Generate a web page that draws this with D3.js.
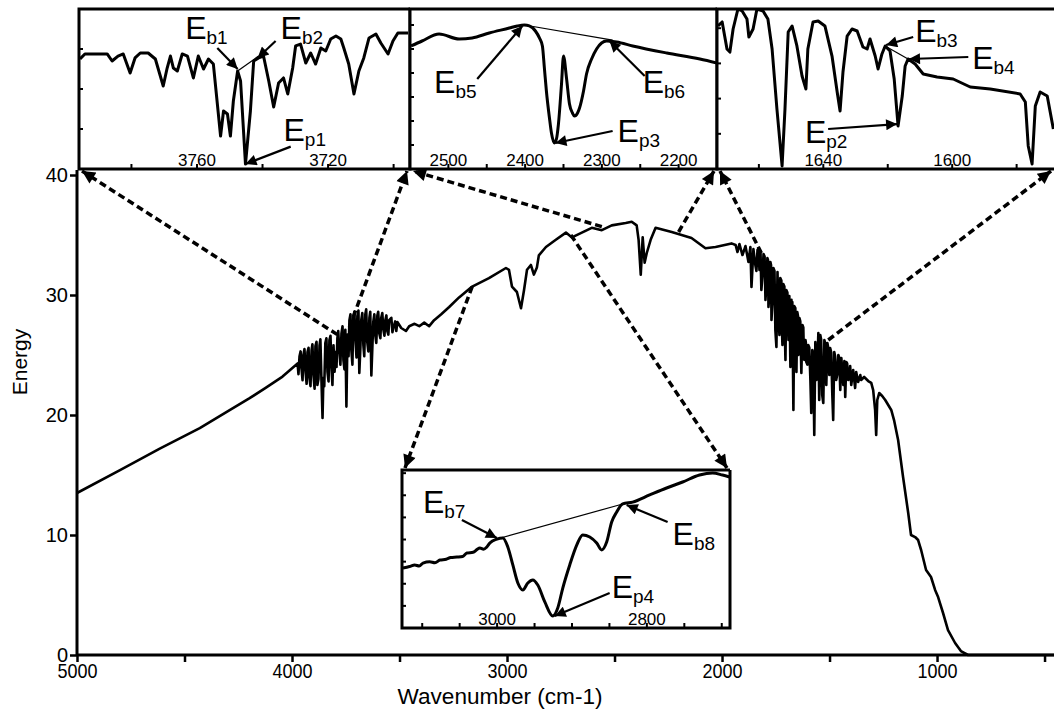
<!DOCTYPE html>
<html>
<head>
<meta charset="utf-8">
<script src="https://cdn.jsdelivr.net/npm/d3@7"></script>
<style>
body { margin: 0; background: #fff; }
svg { display: block; font-family: "Liberation Sans", Arial, sans-serif; }
</style>
</head>
<body>
<svg id="chart" width="1054" height="721"></svg>
<script>
// ---- main spectrum: [wavenumber, energy]
var spectrum = [
  [5000,13.5],[4800,15.4],[4615,17.2],[4429,18.9],[4290,20.4],[4197,21.4],[4128,22.2],[4044,23.2],
  [3974,24.3],[3970,23.4],[3965,24.9],[3960,25.3],[3956,23.9],[3951,22.9],[3947,25.0],[3942,25.5],
  [3937,23.6],[3932,22.6],[3928,25.25],[3923,25.6],[3919,23.1],[3914,22.4],[3909,25.4],[3905,25.9],
  [3900,23.3],[3895,22.2],[3891,25.75],[3886,26.1],[3882,22.5],[3877,23.0],[3872,25.8],[3868,26.3],
  [3863,22.9],[3858,19.75],[3854,23.1],[3850,22.4],[3845,26.0],[3840,26.4],[3835,23.6],[3830,22.8],
  [3826,26.25],[3821,26.6],[3817,24.1],[3812,22.5],[3807,25.8],[3802,23.6],[3798,25.25],[3793,24.0],
  [3789,26.4],[3785,27.0],[3780,25.4],[3775,24.2],[3770,26.8],[3765,27.4],[3761,24.6],[3756,23.8],
  [3752,27.1],[3747,20.7],[3742,26.7],[3737,24.9],[3733,27.9],[3728,28.4],[3724,25.4],[3719,24.2],
  [3715,28.1],[3710,28.6],[3705,26.25],[3700,24.8],[3696,28.25],[3691,28.7],[3687,23.5],[3682,25.6],
  [3678,27.9],[3673,28.5],[3668,25.8],[3664,24.9],[3659,28.4],[3655,28.8],[3650,26.1],[3645,25.3],
  [3640,28.1],[3636,28.6],[3631,23.3],[3622,27.75],[3617,28.4],[3613,26.7],[3608,26.0],[3603,28.3],
  [3599,28.6],[3594,26.8],[3589,26.4],[3585,28.1],[3580,28.5],[3575,27.1],[3570,26.6],[3566,27.9],
  [3561,28.3],[3557,27.0],[3552,26.7],[3548,27.9],[3538,28.1],[3533,26.9],[3529,27.25],[3520,27.8],
  [3515,27.0],[3510,27.75],[3492,27.25],[3470,27.0],[3455,27.4],[3430,27.6],
  [3408,27.4],[3385,27.7],[3362,27.4],[3339,27.9],[3306,28.4],[3269,29.0],
  [3223,29.8],[3162,30.7],[3084,31.4],[3005,32.25],[2991,32.1],[2977,30.7],[2954,30.25],[2935,28.9],
  [2921,30.4],[2907,32.1],[2889,32.5],[2875,31.7],[2861,32.3],[2852,33.3],[2819,34.0],[2773,34.6],
  [2726,35.2],[2698,34.8],[2652,35.2],[2606,35.6],[2559,35.4],[2513,35.8],[2448,36.0],[2420,36.1],
  [2397,35.8],[2388,34.6],[2378,31.7],[2369,34.8],[2360,32.7],[2350,33.5],[2332,34.6],[2309,35.6],
  [2234,35.25],[2142,34.75],[2077,33.9],[2030,34.0],[1956,34.3],
  [1937,34.17],[1928,33.58],[1919,34.25],[1905,33.33],[1891,34.08],[1877,32.75],[1868,34.0],[1863,30.67],
  [1854,33.83],[1845,32.5],[1840,32.0],[1835,33.75],[1830,33.9],[1826,32.08],[1821,33.6],[1817,30.42],
  [1812,31.6],[1807,33.42],[1802,33.2],[1798,29.58],[1793,31.0],[1789,33.08],[1786,32.9],[1784,29.0],
  [1779,30.2],[1775,32.75],[1772,32.5],[1770,27.92],[1765,29.5],[1761,32.25],[1756,32.0],[1752,27.08],
  [1747,25.67],[1742,31.92],[1738,28.5],[1733,26.67],[1731,29.0],[1729,31.42],[1724,31.2],[1722,27.5],
  [1719,25.83],[1715,30.92],[1710,30.7],[1708,27.0],[1705,24.58],[1701,30.42],[1696,30.2],[1693,27.8],
  [1691,26.25],[1687,29.92],[1685,28.0],[1682,24.0],[1677,29.6],[1675,26.0],[1673,29.42],[1668,20.42],
  [1664,29.08],[1659,28.9],[1657,25.5],[1654,23.58],[1650,28.58],[1647,28.3],[1645,25.0],[1642,25.8],
  [1640,28.08],[1636,27.8],[1633,25.2],[1631,23.5],[1626,27.5],[1622,27.3],[1619,24.9],[1617,24.58],
  [1612,26.25],[1610,26.0],[1608,24.42],[1603,24.2],[1599,25.83],[1594,25.6],[1589,22.92],[1585,20.17],
  [1580,25.42],[1576,25.2],[1571,18.33],[1566,26.08],[1561,22.92],[1557,24.0],[1552,26.83],[1548,21.25],
  [1543,26.67],[1539,26.3],[1534,21.67],[1529,21.0],[1524,26.25],[1520,26.0],[1515,22.5],[1510,26.0],
  [1506,25.6],[1501,23.33],[1497,25.58],[1492,25.2],[1487,21.67],[1483,19.58],[1478,25.25],[1474,24.9],
  [1469,22.92],[1464,23.4],[1459,25.0],[1455,24.8],[1450,22.08],[1445,24.75],[1436,22.5],[1431,24.5],
  [1427,21.5],[1422,24.42],[1418,24.3],[1413,22.92],[1408,23.0],[1404,24.08],[1399,22.5],[1390,23.75],
  [1381,22.25],[1376,23.58],[1367,22.75],[1357,23.33],[1353,22.92],
  [1339,23.17],[1320,22.83],[1306,22.67],[1297,22.08],[1288,20.42],[1283,18.33],[1278,21.25],[1269,21.83],
  [1255,21.58],[1241,21.25],[1227,20.83],[1213,20.42],[1200,19.58],[1181,17.92],[1158,14.83],[1134,11.83],
  [1121,10.0],[1102,9.83],[1088,9.58],[1074,8.75],[1051,7.08],[1028,6.5],[1009,5.42],[995,4.83],
  [972,3.5],[949,2.08],[916,1.0],[889,0.33],[856,0],[456,0]
];

var xTickValues = [5000,4500,4000,3500,3000,2500,2000,1500,1000,500];
var xTickLabels = [5000,4000,3000,2000,1000];
var yTickValues = [0,10,20,30,40];

// ---- inset spectra: [wavenumber, relative energy 0-100]
var inset1Data = [
  [3795.7,68.75],[3794.2,71.9],[3787.4,71.9],[3785.9,67.5],[3784.1,70.6],[3782.5,71.9],[3780.4,60],[3778.9,69.4],
  [3777.3,72.5],[3774.9,72.5],[3772.7,68.75],[3770.3,51.9],[3769.1,63.1],[3768.1,70.6],[3767.2,63.1],[3766.0,61.25],
  [3764.5,71.9],[3762.9,70.6],[3761.1,56.9],[3759.6,70.6],[3758.0,62.5],[3756.5,68.75],[3755.0,65.6],[3752.8,20.6],
  [3751.9,36.25],[3750.7,34.4],[3749.8,20.6],[3748.9,42.5],[3747.6,61.25],[3746.7,55],[3745.2,3.1],[3743.7,36.25],
  [3742.7,67.5],[3741.2,69.4],[3739.7,70.6],[3738.1,55],[3736.6,38.75],[3735.1,53.75],[3733.6,56.9],[3732.3,46.9],
  [3730.8,63.1],[3729.9,76.9],[3728.4,78.1],[3726.8,66.25],[3725.3,72.5],[3723.8,65.6],[3722.2,75.6],[3720.7,73.75],
  [3719.2,81.25],[3717.6,83.1],[3716.1,81.25],[3715.2,75.6],[3713.7,65.6],[3712.1,46.9],[3710.6,61.25],[3709.1,69.4],
  [3707.5,81.9],[3705.4,84.4],[3703.9,78.75],[3701.7,71.9],[3700.2,80],[3698.7,85],[3695.6,85]
];
var inset2Data = [
  [2548.7,76.9],[2534.3,80],[2512.1,84.4],[2486,81.25],[2469,81.9],[2446.7,85],[2420.6,88.1],[2410.2,89.4],
  [2401,90],[2394.5,89.4],[2386.6,86.25],[2381.4,81.9],[2377.5,76.9],[2374.9,63.1],[2372.3,48.75],[2368.3,31.9],
  [2365.7,22.5],[2361.8,16.25],[2359.2,18.75],[2356.6,28.1],[2352.6,53.1],[2350,70.6],[2346.1,56.9],[2342.2,40.6],
  [2338.3,35],[2335.7,33.1],[2331.7,35],[2329.1,38.1],[2323.9,48.75],[2320,59.4],[2313.4,68.75],[2306.9,75],
  [2300.4,78.75],[2293.8,80],[2280.8,79.4],[2259.8,76.9],[2215.4,72.5],[2172.3,68.75],[2150,66.25]
];
var inset3Data = [
  [1672.7,89.4],[1671.4,91.9],[1669.9,75],[1669,73.1],[1668,87.5],[1666.5,100],[1665.2,98.75],[1663.7,93.75],
  [1663.1,82.5],[1661.8,87.5],[1660.6,100],[1658.7,98.75],[1657.2,93.75],[1655.9,75],[1654.4,37.5],[1652.8,1.9],
  [1651.9,37.5],[1650.9,85.6],[1649.7,89.4],[1648.2,76.9],[1646.6,58.1],[1645.4,50],[1644.8,75],[1643.2,91.9],
  [1641.6,92.5],[1639.5,89.4],[1637.3,70.6],[1635.7,48.1],[1634.8,36.25],[1633.9,60.6],[1632.6,83.1],[1631.1,87.5],
  [1629.5,86.25],[1627.7,76.25],[1626.4,75],[1625.5,81.25],[1623.9,70.6],[1623,62.5],[1621.8,71.9],[1620.8,76.9],
  [1619.3,73.75],[1618,56.25],[1616.8,26.9],[1615.5,45.6],[1614.6,64.4],[1613.7,68.75],[1611.5,65.6],[1609,59.4],
  [1604.7,57.5],[1599.7,56.25],[1594.4,51.25],[1588.2,50],[1578.9,46.9],[1577.3,41.9],[1576.4,14.4],[1575.2,3.1],
  [1574.2,39.4],[1572.7,48.1],[1570.5,45.6],[1568.6,25]
];
var inset4Data = [
  [3125.7,38],[3117,38.9],[3110,39.9],[3104,39.2],[3099,41.1],[3090,41.9],[3083,41.3],[3076.3,43],
  [3068,43.5],[3062,44.6],[3053.7,44.9],[3046,45.3],[3040.3,47.5],[3032,47.9],[3027,49.6],[3023,50.6],
  [3018,49.8],[3013.7,51.3],[3009.7,53.8],[3000.3,56.3],[2992.3,57],[2985.7,51.3],[2979,39.9],[2972.3,28.5],
  [2965.7,24.1],[2959,28.5],[2952.3,30.4],[2945.7,27.2],[2936.3,16.5],[2925.7,7.6],[2919,12.7],[2912.3,25.3],
  [2903,39.9],[2893.7,52.5],[2885.7,58.9],[2876.3,57.6],[2867,53.8],[2860.3,49.4],[2853.7,54.4],[2847,67.1],
  [2840.3,73.4],[2832.3,78.5],[2819,79.7],[2796.3,84.2],[2773.7,88.6],[2752.3,92.4],[2729.7,96.8],[2712.3,98.1],
  [2699,96.8],[2689.7,95.6]
];

// inset tick values / labels
var inset1Ticks = [3780,3760,3740,3720,3700], inset1Labels = [3760,3720];
var inset2Ticks = [2500,2450,2400,2350,2300,2250,2200], inset2Labels = [2500,2400,2300,2200];
var inset3Ticks = [1660,1640,1620,1600,1580], inset3Labels = [1640,1600];
var inset4Ticks = [3100,3050,3000,2950,2900,2850,2800,2750,2700], inset4Labels = [3000,2800];

// annotations (E labels) in inset units
var inset1Notes = [
  {sub:"b1", label:[3763.6,81], tail:[3753.8,75.6], tip:[3747.6,62.5]},
  {sub:"b2", label:[3734.5,81], tail:[3736,80], tip:[3741.5,69.4]},
  {sub:"p1", label:[3733.6,17.5], tail:[3731.4,14], tip:[3745.2,3.1]}
];
var inset2Notes = [
  {sub:"b5", label:[2518.6,47.5], tail:[2462.4,56.25], tip:[2403.6,89.4]},
  {sub:"b6", label:[2246.8,47.5], tail:[2244.2,58.1], tip:[2290,80]},
  {sub:"p3", label:[2279.5,17], tail:[2286,23.75], tip:[2360.5,16.25]}
];
var inset3Notes = [
  {sub:"b3", label:[1611.5,79.4], tail:[1612.1,82.5], tip:[1620.5,77.5]},
  {sub:"b4", label:[1593.8,62.5], tail:[1595,70], tip:[1613.4,68.75]},
  {sub:"p2", label:[1645.7,16], tail:[1638.5,25], tip:[1617.1,28.1]}
];
var inset4Notes = [
  {sub:"b7", label:[3099,72.8], tail:[3047,68.4], tip:[3000.3,57]},
  {sub:"b8", label:[2765.7,52.5], tail:[2772.3,67.1], tip:[2827,77.8]},
  {sub:"p4", label:[2847,19], tail:[2849.7,22.2], tip:[2923,7.6]}
];
// baseline lines between E_b points
var inset1Base = [[3747.6,61.25],[3741.2,70.6]];
var inset2Base = [[2401,90],[2286,80.6]];
var inset3Base = [[1620.8,76.9],[1613.7,68.75]];
var inset4Base = [[3000.3,56.3],[2832.3,78.5]];

// dashed arrows: point on main spectrum -> inset corner
var zoomLinks = [
  {from:[3789,26.7], inset:0, corner:"bl"},
  {from:[3733,27.3], inset:0, corner:"br"},
  {from:[2559,35.7], inset:1, corner:"bl"},
  {from:[2202,35.25], inset:1, corner:"br"},
  {from:[1817,33.5], inset:2, corner:"bl"},
  {from:[1506,26.25], inset:2, corner:"br"},
  {from:[3162,30.7], inset:3, corner:"tl"},
  {from:[2703,35.0], inset:3, corner:"tr"}
];

var svg = d3.select("#chart");

var defs = svg.append("defs");
defs.append("marker").attr("id","headBig")
  .attr("viewBox","0 0 10 10").attr("refX",10).attr("refY",5)
  .attr("markerWidth",17).attr("markerHeight",13).attr("markerUnits","userSpaceOnUse")
  .attr("orient","auto")
  .append("path").attr("d","M0,0L10,5L0,10z").attr("fill","#000");
defs.append("marker").attr("id","headNote")
  .attr("viewBox","0 0 10 10").attr("refX",10).attr("refY",5)
  .attr("markerWidth",18).attr("markerHeight",11).attr("markerUnits","userSpaceOnUse")
  .attr("orient","auto")
  .append("path").attr("d","M0,0L10,5L0,10z").attr("fill","#000");

// ---- main chart
var x = d3.scaleLinear().domain([5000,456]).range([77,1054]);
var y = d3.scaleLinear().domain([0,40]).range([655,175]);

var xAxis = d3.axisBottom(x).tickValues(xTickValues).tickSize(7).tickPadding(2)
  .tickFormat(function(d){ return xTickLabels.indexOf(d) >= 0 ? d : ""; });
var gx = svg.append("g").attr("transform","translate(0,655)").call(xAxis);
gx.select(".domain").remove();
gx.selectAll("line").attr("stroke-width",2.5);
gx.selectAll("text").attr("font-size",20).attr("fill","#000")
  .attr("font-family","'Liberation Sans', Arial, sans-serif")
  .attr("transform","scale(0.9,1)");

var yAxis = d3.axisLeft(y).tickValues(yTickValues).tickSize(7).tickPadding(2);
var gy = svg.append("g").attr("transform","translate(77,0)").call(yAxis);
gy.select(".domain").remove();
gy.selectAll("line").attr("stroke-width",2.5);
gy.selectAll("text").attr("font-size",20).attr("fill","#000")
  .attr("font-family","'Liberation Sans', Arial, sans-serif");

svg.append("line").attr("x1",77).attr("x2",1054).attr("y1",655).attr("y2",655)
  .attr("stroke","#000").attr("stroke-width",3);
svg.append("line").attr("x1",77).attr("x2",77).attr("y1",170).attr("y2",656)
  .attr("stroke","#000").attr("stroke-width",3);

svg.append("text").attr("x",500).attr("y",704).attr("text-anchor","middle")
  .attr("font-size",22).attr("textLength",205).attr("lengthAdjust","spacingAndGlyphs")
  .text("Wavenumber (cm-1)");
svg.append("text").attr("transform","translate(27,362) rotate(-90)").attr("text-anchor","middle")
  .attr("font-size",21).text("Energy");

var mainLine = d3.line().x(function(d){ return x(d[0]); }).y(function(d){ return y(d[1]); });
svg.append("path").datum(spectrum).attr("d",mainLine)
  .attr("fill","none").attr("stroke","#000").attr("stroke-width",2.6).attr("stroke-linejoin","round");

// ---- insets
var insets = [
  {box:[79,410,9,169], xd:[3796,3695], data:inset1Data, ticks:inset1Ticks, labels:inset1Labels,
   yStep:25, notes:inset1Notes, base:inset1Base, curve:d3.curveLinear},
  {box:[410,717,9,169], xd:[2550,2150], data:inset2Data, ticks:inset2Ticks, labels:inset2Labels,
   yStep:15, notes:inset2Notes, base:inset2Base, curve:d3.curveMonotoneX},
  {box:[717,1054,9,169], xd:[1673,1568.4], data:inset3Data, ticks:inset3Ticks, labels:inset3Labels,
   yStep:22, notes:inset3Notes, base:inset3Base, curve:d3.curveLinear, openRight:true},
  {box:[402,730,470,628], xd:[3127,2689], data:inset4Data, ticks:inset4Ticks, labels:inset4Labels,
   yStep:14, notes:inset4Notes, base:inset4Base, curve:d3.curveMonotoneX}
];

insets.forEach(function(ins, i){
  var x0 = ins.box[0], x1 = ins.box[1], y0 = ins.box[2], y1 = ins.box[3];
  var sx = d3.scaleLinear().domain(ins.xd).range([x0,x1]);
  var sy = d3.scaleLinear().domain([0,100]).range([y1,y0]);
  var g = svg.append("g");

  g.append("rect").attr("x",x0).attr("y",y0).attr("width",x1-x0).attr("height",y1-y0).attr("fill","#fff");

  defs.append("clipPath").attr("id","clip"+i).append("rect")
    .attr("x",x0).attr("y",y0-1).attr("width",x1-x0).attr("height",y1-y0+2);

  var line = d3.line().curve(ins.curve).x(function(d){ return sx(d[0]); }).y(function(d){ return sy(d[1]); });
  g.append("path").datum(ins.data).attr("d",line).attr("clip-path","url(#clip"+i+")")
    .attr("fill","none").attr("stroke","#000").attr("stroke-width",3).attr("stroke-linejoin","round");

  g.append("line").attr("x1",sx(ins.base[0][0])).attr("y1",sy(ins.base[0][1]))
    .attr("x2",sx(ins.base[1][0])).attr("y2",sy(ins.base[1][1]))
    .attr("stroke","#000").attr("stroke-width",1.2);

  // frame
  var right = ins.openRight ? x1 + 12 : x1;
  g.append("path").attr("d","M"+right+","+y0+"H"+x0+"V"+y1+"H"+right+(ins.openRight ? "" : "V"+y0))
    .attr("fill","none").attr("stroke","#000").attr("stroke-width",3);

  // inward ticks
  g.selectAll(".xt").data(ins.ticks).enter().append("line")
    .attr("x1",function(d){ return sx(d); }).attr("x2",function(d){ return sx(d); })
    .attr("y1",y1).attr("y2",y1-5).attr("stroke","#000").attr("stroke-width",2);
  g.selectAll(".yt").data(d3.range(ins.yStep,100,ins.yStep)).enter().append("line")
    .attr("x1",x0).attr("x2",x0+4)
    .attr("y1",function(d){ return sy(d); }).attr("y2",function(d){ return sy(d); })
    .attr("stroke","#000").attr("stroke-width",2);
  g.selectAll(".xl").data(ins.labels).enter().append("text")
    .attr("x",function(d){ return sx(d); }).attr("y",y1-3)
    .attr("text-anchor","middle").attr("font-size",17).text(function(d){ return d; });

  // E annotations
  ins.notes.forEach(function(n){
    g.append("line").attr("x1",sx(n.tail[0])).attr("y1",sy(n.tail[1]))
      .attr("x2",sx(n.tip[0])).attr("y2",sy(n.tip[1]))
      .attr("stroke","#000").attr("stroke-width",2.2).attr("marker-end","url(#headNote)");
    var t = g.append("text").attr("x",sx(n.label[0])).attr("y",sy(n.label[1])).attr("font-size",32);
    t.append("tspan").text("E");
    t.append("tspan").attr("font-size",19).attr("dy",5).text(n.sub);
  });
});

// ---- dashed arrows from spectrum to inset corners
zoomLinks.forEach(function(l){
  var b = insets[l.inset].box;
  var cx = (l.corner === "bl" || l.corner === "tl") ? b[0] + 3 : b[1] - 3;
  var cy = (l.corner === "bl" || l.corner === "br") ? b[3] + 2 : b[2] - 2;
  svg.append("line").attr("x1",x(l.from[0])).attr("y1",y(l.from[1]))
    .attr("x2",cx).attr("y2",cy)
    .attr("stroke","#000").attr("stroke-width",3.5).attr("stroke-dasharray","7,4")
    .attr("marker-end","url(#headBig)");
});
</script>
</body>
</html>
